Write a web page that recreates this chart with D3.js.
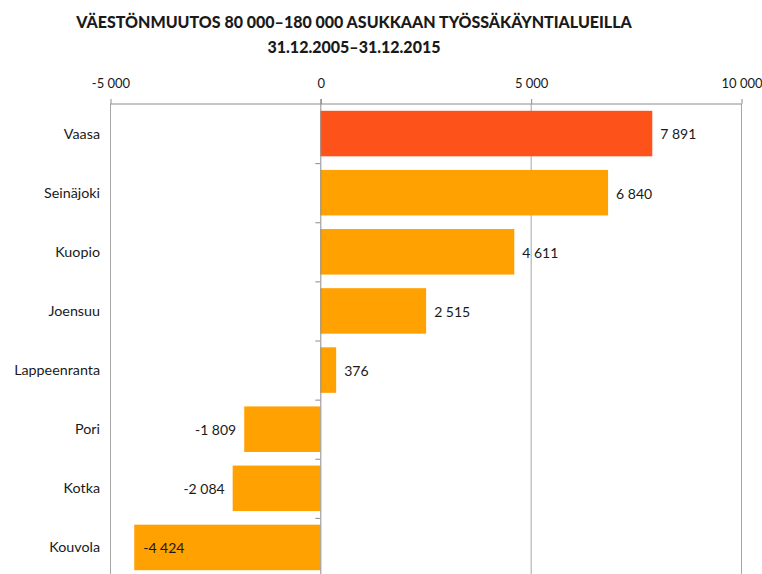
<!DOCTYPE html>
<html>
<head>
<meta charset="utf-8">
<script src="https://cdn.jsdelivr.net/npm/d3@7"></script>
<style>
  body { margin: 0; background: #fff; }
  svg text { font-family: Lato, "Open Sans", sans-serif; fill: #1a1a1a; }
</style>
</head>
<body>
<div id="chart"></div>
<script>
// data
var categories = ["Vaasa", "Seinäjoki", "Kuopio", "Joensuu", "Lappeenranta", "Pori", "Kotka", "Kouvola"];
var values = [7891, 6840, 4611, 2515, 376, -1809, -2084, -4424];
var tickValues = [-5000, 0, 5000, 10000];
var highlight = "Vaasa";

var width = 762, height = 574;

var svg = d3.select("#chart").append("svg")
  .attr("width", width)
  .attr("height", height);

var data = categories.map(function(c, i) { return { name: c, value: values[i] }; });

var x = d3.scaleLinear().domain([-5000, 10000]).range([110, 741]);
var y = d3.scaleBand().domain(categories).range([104, 577])
  .paddingInner(0.23).paddingOuter(0.115);

var fmt = function(v) {
  var s = d3.format(",")(Math.abs(v)).replace(/,/g, " ");
  return (v < 0 ? "-" : "") + s;
};

// title
var title = svg.append("text")
  .attr("x", 354)
  .attr("text-anchor", "middle")
  .style("font-weight", "900")
  .style("font-size", "16px");
title.append("tspan").attr("x", 354).attr("y", 28)
  .text("VÄESTÖNMUUTOS 80 000–180 000 ASUKKAAN TYÖSSÄKÄYNTIALUEILLA");
title.append("tspan").attr("x", 354).attr("y", 53)
  .text("31.12.2005–31.12.2015");

// vertical gridlines
svg.append("g").selectAll("line")
  .data(tickValues.filter(function(d) { return d != 0; }))
  .enter().append("line")
  .attr("x1", function(d) { return x(d) + 0.5; })
  .attr("x2", function(d) { return x(d) + 0.5; })
  .attr("y1", 104)
  .attr("y2", height)
  .style("stroke", "#a6a6a6");

// top axis
var axis = d3.axisTop(x)
  .tickValues(tickValues)
  .tickSize(5)
  .tickPadding(11)
  .tickFormat(fmt);
var gx = svg.append("g")
  .attr("transform", "translate(0.5,104)")
  .call(axis);
gx.select(".domain").attr("d", "M" + x(-5000) + ",0H" + x(10000)).style("stroke", "#8c8c8c");
gx.selectAll(".tick line").style("stroke", "#8c8c8c");
gx.selectAll(".tick text").style("font-size", "13px").style("fill", "#1a1a1a");

// bars
svg.append("g").selectAll("rect")
  .data(data)
  .enter().append("rect")
  .attr("x", function(d) { return x(Math.min(0, d.value)); })
  .attr("y", function(d) { return y(d.name); })
  .attr("width", function(d) { return Math.abs(x(d.value) - x(0)); })
  .attr("height", y.bandwidth())
  .style("fill", function(d) { return d.name == highlight ? "#fd5219" : "#ffa101"; });

// zero axis with category ticks
svg.append("line")
  .attr("x1", x(0) + 0.5).attr("x2", x(0) + 0.5)
  .attr("y1", 99).attr("y2", height)
  .style("stroke", "#8c8c8c");
svg.append("g").selectAll("line")
  .data(d3.range(1, categories.length + 1))
  .enter().append("line")
  .attr("x1", x(0) - 5)
  .attr("x2", x(0))
  .attr("y1", function(i) { return 104 + i * y.step() + 0.5; })
  .attr("y2", function(i) { return 104 + i * y.step() + 0.5; })
  .style("stroke", "#8c8c8c");

// category labels
svg.append("g").selectAll("text")
  .data(data)
  .enter().append("text")
  .attr("x", 100)
  .attr("y", function(d) { return y(d.name) + y.bandwidth() / 2; })
  .attr("dy", "0.35em")
  .attr("text-anchor", "end")
  .style("font-size", "14.3px")
  .text(function(d) { return d.name; });

// value labels
svg.append("g").selectAll("text")
  .data(data)
  .enter().append("text")
  .attr("x", function(d) {
    if (d.value >= 0) return x(d.value) + 8;
    if (x(d.value) - 60 < x(-5000)) return x(d.value) + 9; // no room outside, put inside
    return x(d.value) - 8;
  })
  .attr("y", function(d) { return y(d.name) + y.bandwidth() / 2 + 1; })
  .attr("dy", "0.35em")
  .attr("text-anchor", function(d) {
    if (d.value >= 0) return "start";
    if (x(d.value) - 60 < x(-5000)) return "start";
    return "end";
  })
  .style("font-size", "14px")
  .text(function(d) { return fmt(d.value); });
</script>
</body>
</html>
